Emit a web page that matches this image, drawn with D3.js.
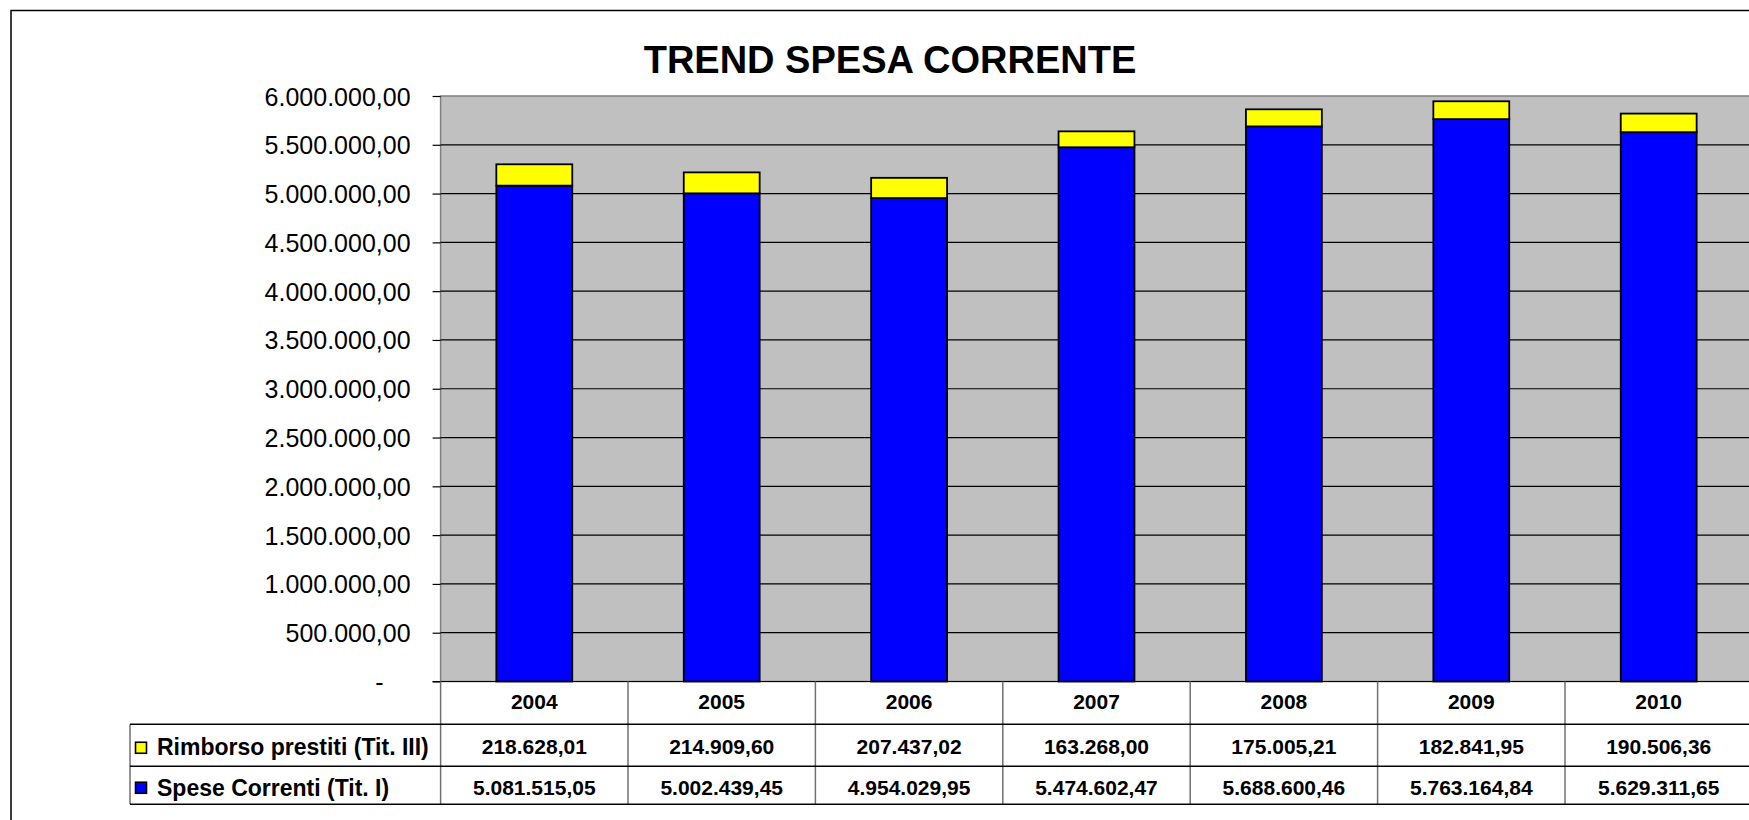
<!DOCTYPE html>
<html>
<head>
<meta charset="utf-8">
<script src="https://cdn.jsdelivr.net/npm/d3@7"></script>
<style>
  body { margin: 0; background: #fff; }
  svg { display: block; font-family: "Liberation Sans", Arial, sans-serif; }
</style>
</head>
<body>
<svg id="chart" width="1749" height="820"></svg>
<script>
// data
var years = ["2004", "2005", "2006", "2007", "2008", "2009", "2010"];
var rimborso = [218628.01, 214909.60, 207437.02, 163268.00, 175005.21, 182841.95, 190506.36];
var spese = [5081515.05, 5002439.45, 4954029.95, 5474602.47, 5688600.46, 5763164.84, 5629311.65];
var seriesNames = ["Rimborso prestiti (Tit. III)", "Spese Correnti (Tit. I)"];
var seriesColors = ["#ffff00", "#0000ff"];
var yTicks = [0, 500000, 1000000, 1500000, 2000000, 2500000, 3000000, 3500000,
  4000000, 4500000, 5000000, 5500000, 6000000];
var title = "TREND SPESA CORRENTE";

var it = d3.formatLocale({ decimal: ",", thousands: ".", grouping: [3], currency: ["", "€"] });
var fmt = it.format(",.2f");

var svg = d3.select("#chart");

var plot = { left: 440.6, right: 1752.4, top: 96, bottom: 681.5 };
var rowY = [681.5, 724.3, 766.2, 804.3];

var x = d3.scaleBand()
  .domain(years)
  .range([plot.left, plot.right])
  .paddingInner(0.595)
  .paddingOuter(0.2975);

var y = d3.scaleLinear()
  .domain([0, 6000000])
  .range([plot.bottom, plot.top]);

// outer frame
svg.append("rect")
  .attr("x", 11).attr("y", 10.5)
  .attr("width", 1800).attr("height", 900)
  .attr("fill", "none")
  .attr("stroke", "#000")
  .attr("stroke-width", 1.5);

svg.append("text")
  .attr("x", 890)
  .attr("y", 72.5)
  .attr("text-anchor", "middle")
  .attr("font-size", 38)
  .attr("font-weight", "bold")
  .text(title);

// plot area
svg.append("rect")
  .attr("x", plot.left).attr("y", plot.top)
  .attr("width", plot.right - plot.left)
  .attr("height", plot.bottom - plot.top)
  .attr("fill", "#c0c0c0")
  .attr("stroke", "#808080")
  .attr("stroke-width", 1.5);

svg.append("g")
  .selectAll("line")
  .data(yTicks.filter(function (d) { return d > 0 && d < 6000000; }))
  .enter()
  .append("line")
  .attr("x1", plot.left).attr("x2", plot.right)
  .attr("y1", function (d) { return y(d); })
  .attr("y2", function (d) { return y(d); })
  .attr("stroke", "#000")
  .attr("stroke-width", 1.2);

var yAxis = d3.axisLeft(y)
  .tickValues(yTicks)
  .tickSize(8)
  .tickPadding(22)
  .tickFormat(function (d) { return d === 0 ? "-" : fmt(d); });

var ga = svg.append("g")
  .attr("transform", "translate(" + plot.left + ",0)")
  .call(yAxis);
ga.select(".domain").remove();
ga.selectAll("line").attr("stroke", "#000").attr("stroke-width", 1.2);
ga.selectAll("text")
  .attr("font-family", "Liberation Sans, Arial, sans-serif")
  .attr("font-size", 25)
  .attr("fill", "#000")
  .attr("dy", "0.36em")
  .attr("x", function (d) { return d === 0 ? -57 : -30; });

// stacked bars
var stackData = years.map(function (yr, i) {
  return { year: yr, spese: spese[i], rimborso: rimborso[i] };
});
var stack = d3.stack().keys(["spese", "rimborso"]);
var layers = stack(stackData);
var layerColors = [seriesColors[1], seriesColors[0]];

svg.append("g")
  .selectAll("g")
  .data(layers)
  .enter()
  .append("g")
  .attr("fill", function (d, i) { return layerColors[i]; })
  .selectAll("rect")
  .data(function (d) { return d; })
  .enter()
  .append("rect")
  .attr("x", function (d) { return x(d.data.year); })
  .attr("width", x.bandwidth())
  .attr("y", function (d) { return y(d[1]); })
  .attr("height", function (d) { return y(d[0]) - y(d[1]); })
  .attr("stroke", "#000")
  .attr("stroke-width", 1.8);

// axis line
svg.append("line")
  .attr("x1", plot.left - 8).attr("x2", 1749)
  .attr("y1", plot.bottom).attr("y2", plot.bottom)
  .attr("stroke", "#000").attr("stroke-width", 1.2);

// data table
var table = svg.append("g");
var step = x.step();
var colEdges = d3.range(years.length + 1).map(function (i) { return plot.left + i * step; });

table.selectAll("line.v")
  .data(colEdges)
  .enter()
  .append("line")
  .attr("x1", function (d) { return d; })
  .attr("x2", function (d) { return d; })
  .attr("y1", rowY[0]).attr("y2", rowY[3])
  .attr("stroke", "#707070")
  .attr("stroke-width", 1.5);

table.append("line")
  .attr("x1", 130).attr("x2", 130)
  .attr("y1", rowY[1]).attr("y2", rowY[3])
  .attr("stroke", "#707070").attr("stroke-width", 1.5);

table.selectAll("line.h")
  .data(rowY.slice(1))
  .enter()
  .append("line")
  .attr("x1", 130).attr("x2", 1749)
  .attr("y1", function (d) { return d; })
  .attr("y2", function (d) { return d; })
  .attr("stroke", "#000")
  .attr("stroke-width", 1.5);

table.selectAll("text.year")
  .data(years)
  .enter()
  .append("text")
  .attr("x", function (d) { return x(d) + x.bandwidth() / 2; })
  .attr("y", 709)
  .attr("text-anchor", "middle")
  .attr("font-size", 21)
  .attr("font-weight", "bold")
  .text(function (d) { return d; });

var rows = [rimborso, spese];
var rowBase = [753.5, 794.5];

rows.forEach(function (vals, r) {
  table.selectAll("text.v" + r)
    .data(vals)
    .enter()
    .append("text")
    .attr("x", function (d, i) { return x(years[i]) + x.bandwidth() / 2; })
    .attr("y", rowBase[r])
    .attr("text-anchor", "middle")
    .attr("font-size", 21)
    .attr("font-weight", "bold")
    .text(function (d) { return fmt(d); });

  table.append("rect")
    .attr("x", 135.5).attr("y", (rowY[r + 1] + rowY[r + 2]) / 2 - 3)
    .attr("width", 11).attr("height", 11)
    .attr("fill", seriesColors[r])
    .attr("stroke", "#000")
    .attr("stroke-width", 1.6);

  table.append("text")
    .attr("x", 157)
    .attr("y", rowBase[r] + 1.5)
    .attr("font-size", 23)
    .attr("font-weight", "bold")
    .text(seriesNames[r]);
});
</script>
</body>
</html>
